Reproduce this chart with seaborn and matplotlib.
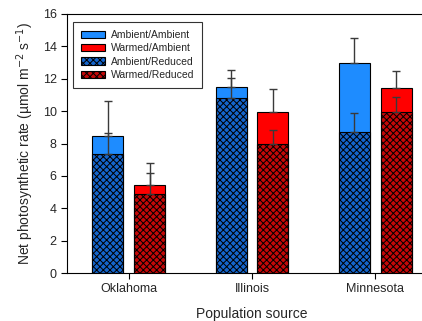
import numpy as np
import pandas as pd
import matplotlib
matplotlib.use("Agg")
import matplotlib.pyplot as plt
import seaborn as sns
from matplotlib.patches import Patch

populations = ["Oklahoma", "Illinois", "Minnesota"]
warming = ["Ambient", "Warmed"]

# net photosynthetic rate, ambient precipitation
ambient_ambient = [8.45, 11.5, 13.0]
warmed_ambient = [5.45, 9.95, 11.45]
# reduced precipitation
ambient_reduced = [7.35, 10.8, 8.7]
warmed_reduced = [4.85, 8.0, 9.95]

# upper error bars
ambient_ambient_err = [2.2, 1.05, 1.5]
warmed_ambient_err = [1.35, 1.4, 1.0]
ambient_reduced_err = [1.3, 1.25, 1.2]
warmed_reduced_err = [1.35, 0.85, 0.9]

legend_labels = ["Ambient/Ambient", "Warmed/Ambient", "Ambient/Reduced", "Warmed/Reduced"]

light_colors = {"Ambient": "#1e8cff", "Warmed": "#ff0000"}
dark_colors = {"Ambient": "#1565cc", "Warmed": "#c40808"}
HATCH = "xxxxx"

amb = pd.DataFrame({
    "population": populations * 2,
    "warming": ["Ambient"] * 3 + ["Warmed"] * 3,
    "rate": ambient_ambient + warmed_ambient,
    "err": ambient_ambient_err + warmed_ambient_err,
})
red = pd.DataFrame({
    "population": populations * 2,
    "warming": ["Ambient"] * 3 + ["Warmed"] * 3,
    "rate": ambient_reduced + warmed_reduced,
    "err": ambient_reduced_err + warmed_reduced_err,
})

sns.set_style("ticks")
plt.rcParams["font.family"] = ["Liberation Sans", "DejaVu Sans"]
plt.rcParams["hatch.linewidth"] = 0.7
plt.rcParams["hatch.color"] = "black"

fig = plt.figure(figsize=(4.22, 3.21), dpi=100)
ax = fig.add_axes([67 / 422, 48 / 321, 370 / 422, 259 / 321])

for df, colors, hatch in [(amb, light_colors, None), (red, dark_colors, HATCH)]:
    n_before = len(ax.containers)
    sns.barplot(data=df, x="population", y="rate", hue="warming",
                order=populations, hue_order=warming, palette=colors,
                saturation=1, width=0.68, gap=0.26, errorbar=None,
                edgecolor="black", linewidth=0.8, legend=False, ax=ax)
    for cont, w in zip(ax.containers[n_before:], warming):
        sub = df[df["warming"] == w].set_index("population").loc[populations]
        xs = []
        for bar in cont:
            if hatch:
                bar.set_hatch(hatch)
            xs.append(bar.get_x() + bar.get_width() / 2)
        ax.errorbar(xs, sub["rate"], yerr=[np.zeros(3), sub["err"]],
                    fmt="none", ecolor="#3a3a3a", elinewidth=1.0,
                    capsize=3, capthick=1.0, zorder=5)

ax.set_xlim(-0.5, 2.5)
ax.set_ylim(0, 16)
ax.set_yticks(np.arange(0, 17, 2))
ax.tick_params(axis="both", labelsize=9, length=4, width=0.8, color="black")
ax.set_xlabel("Population source", fontsize=10, labelpad=8)
ax.set_ylabel("Net photosynthetic rate (µmol m$^{-2}$ s$^{-1}$)", fontsize=10, labelpad=5)
for s in ax.spines.values():
    s.set_color("black")
    s.set_linewidth(0.8)

handles = [
    Patch(facecolor=light_colors["Ambient"], edgecolor="black", linewidth=0.8),
    Patch(facecolor=light_colors["Warmed"], edgecolor="black", linewidth=0.8),
    Patch(facecolor=dark_colors["Ambient"], edgecolor="black", linewidth=0.8, hatch=HATCH),
    Patch(facecolor=dark_colors["Warmed"], edgecolor="black", linewidth=0.8, hatch=HATCH),
]
leg = ax.legend(handles, legend_labels, loc="upper left", bbox_to_anchor=(0.016, 0.969),
                borderaxespad=0, fontsize=7.5, frameon=True, fancybox=False,
                edgecolor="black", handlelength=2.3, handleheight=0.7,
                labelspacing=0.32, borderpad=0.75, handletextpad=0.6)
leg.get_frame().set_linewidth(0.8)

fig.savefig("out.png", dpi=100)
